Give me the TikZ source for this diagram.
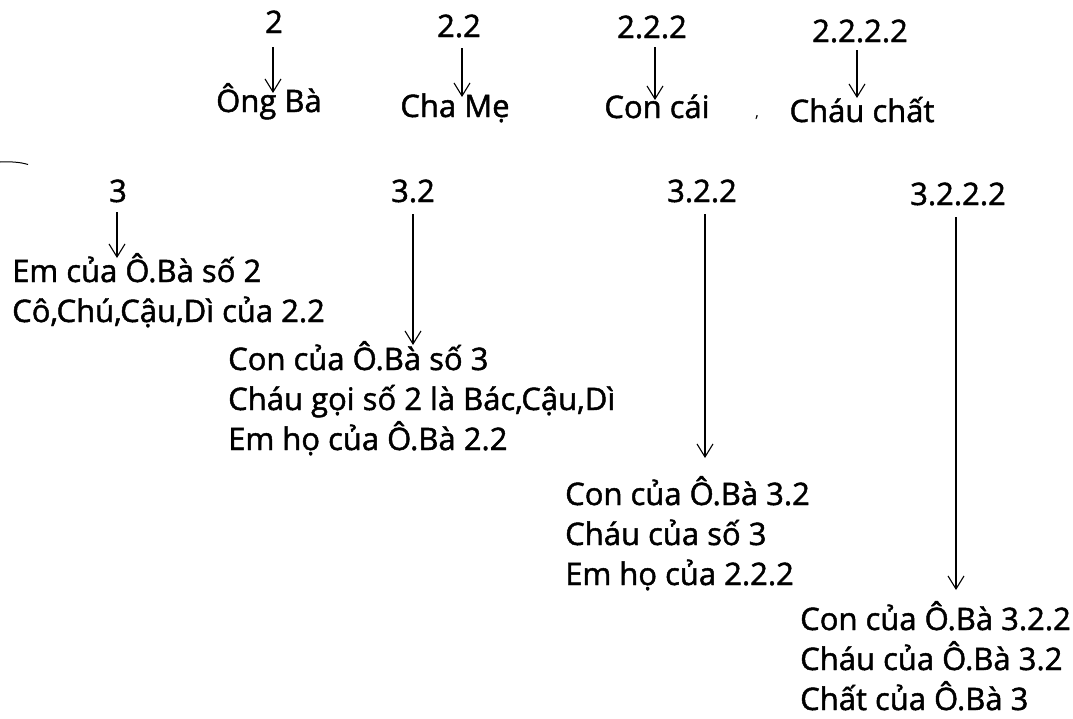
\documentclass[tikz,border=0pt]{standalone}
\usepackage{fontspec}
\setmainfont{Open Sans}
\newfontfamily\heavyfont{Open Sans}[FakeBold=1.5]
\usetikzlibrary{arrows.meta,calc}
\tikzset{
  lbl/.style={inner sep=0pt, anchor=base, font=\heavyfont\fontsize{31}{40}\selectfont},
  blk/.style={inner sep=0pt, align=left, anchor=base west, font=\heavyfont\fontsize{31}{40}\selectfont},
  arr/.style={line width=1.1pt, -{Straight Barb[length=13pt,width=16pt,line width=1.1pt]}},
}
\begin{document}
\begin{tikzpicture}[x=1pt,y=-1pt]
\useasboundingbox (0,0) rectangle (1073,718);
% row 1
\node[lbl] (n2) at (274,33) {2};
\node[lbl] (n22) at (459,37) {2.2};
\node[lbl] (n222) at (652,38) {2.2.2};
\node[lbl] (n2222) at (860,42) {2.2.2.2};
\node[lbl] (ob) at (269,112) {Ông Bà};
\node[lbl] (cm) at (455,117) {Cha Mẹ};
\node[lbl] (cc) at (657,118) {Con cái};
\node[lbl] (ch) at (862,122) {Cháu chất};
\node[lbl, font=\fontsize{16}{16}\selectfont] (dot) at (757,117) {,};
\draw[arr] ($(n2.base)+(-1,14)$) -- ($(n2.base |- ob.base)+(-1,-19)$);
\draw[arr] ($(n22.base)+(3,11)$) -- ($(n22.base |- cm.base)+(3,-20)$);
\draw[arr] ($(n222.base)+(3,9)$) -- ($(n222.base |- cc.base)+(3,-18)$);
\draw[arr] ($(n2222.base)+(-3,8)$) -- ($(n2222.base |- ch.base)+(-3,-24)$);
% row 3
\node[lbl] (n3) at (118,202) {3};
\node[lbl] (n32) at (413,202) {3.2};
\node[lbl] (n322) at (702,202) {3.2.2};
\node[lbl] (n3222) at (958,205) {3.2.2.2};
% blocks: anchor = baseline of the last line
\node[blk] (b1) at (12,322) {Em của Ô.Bà số 2\\Cô,Chú,Cậu,Dì của 2.2};
\node[blk] (b2) at (228,450) {Con của Ô.Bà số 3\\Cháu gọi số 2 là Bác,Cậu,Dì\\Em họ của Ô.Bà 2.2};
\node[blk] (b3) at (565,585) {Con của Ô.Bà 3.2\\Cháu của số 3\\Em họ của 2.2.2};
\node[blk] (b4) at (800,710) {Con của Ô.Bà 3.2.2\\Cháu của Ô.Bà 3.2\\Chất của Ô.Bà 3};
\draw[arr] ($(n3.base)+(-1,10)$) -- ($(n3.base |- b1.base)+(-1,-64)$);
\draw[arr] ($(n32.base)+(0,12)$) -- ($(n32.base |- b2.base)+(0,-105)$);
\draw[arr] ($(n322.base)+(3,12)$) -- ($(n322.base |- b3.base)+(3,-127)$);
\draw[arr] ($(n3222.base)+(-2,12)$) -- ($(n3222.base |- b4.base)+(-2,-120)$);
% stray stroke at left margin
\draw[line width=1pt] (0,162) .. controls (10,161.5) and (20,162) .. (28,164.5);
\end{tikzpicture}
\end{document}
